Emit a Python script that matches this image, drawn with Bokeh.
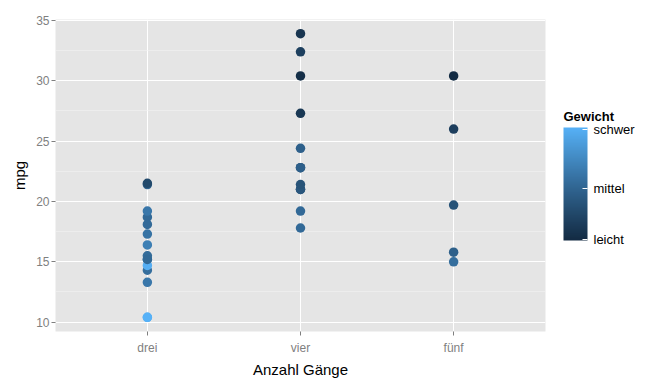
import numpy as np
from bokeh.plotting import figure
from bokeh.layouts import row
from bokeh.models import (ColumnDataSource, LinearColorMapper, ColorBar, FixedTicker,
                          Range1d, SingleIntervalTicker, Label)
from bokeh.transform import transform
from bokeh.embed import file_html
from bokeh.resources import INLINE

# mtcars: mpg by gear, colour = weight
gear = [4, 4, 4, 3, 3, 3, 3, 4, 4, 4, 4, 3, 3, 3, 3, 3, 3, 4, 4, 4, 3, 3, 3, 3, 3, 4, 5, 5, 5, 5, 5, 4]
mpg = [21.0, 21.0, 22.8, 21.4, 18.7, 18.1, 14.3, 24.4, 22.8, 19.2, 17.8, 16.4, 17.3, 15.2, 10.4, 10.4,
       14.7, 32.4, 30.4, 33.9, 21.5, 15.5, 15.2, 13.3, 19.2, 27.3, 26.0, 30.4, 15.8, 19.7, 15.0, 21.4]
wt = [2.620, 2.875, 2.320, 3.215, 3.440, 3.460, 3.570, 3.190, 3.150, 3.440, 3.440, 4.070, 3.730, 3.780,
      5.250, 5.424, 5.345, 2.200, 1.615, 1.835, 2.465, 3.520, 3.435, 3.840, 3.845, 1.935, 2.140, 1.513,
      3.170, 2.770, 3.570, 2.780]
gear_labels = {3: "drei", 4: "vier", 5: "fünf"}
legend_breaks = [1.55, 3.325, 5.35]
legend_labels = ["leicht", "mittel", "schwer"]
legend_title = "Gewicht"


def hex2rgb(h):
    h = h.lstrip("#")
    return np.array([int(h[i:i + 2], 16) for i in (0, 2, 4)]) / 255.0


def rgb2lab(c):
    c = np.where(c > 0.04045, ((c + 0.055) / 1.055) ** 2.4, c / 12.92)
    M = np.array([[0.4124, 0.3576, 0.1805], [0.2126, 0.7152, 0.0722], [0.0193, 0.1192, 0.9505]])
    xyz = M @ c / np.array([0.95047, 1.0, 1.08883])
    f = np.where(xyz > 0.008856, np.cbrt(xyz), 7.787 * xyz + 16 / 116)
    return np.array([116 * f[1] - 16, 500 * (f[0] - f[1]), 200 * (f[1] - f[2])])


def lab2hex(lab):
    L, a, b = lab
    fy = (L + 16) / 116
    fx = fy + a / 500
    fz = fy - b / 200
    f = np.array([fx, fy, fz])
    xyz = np.where(f ** 3 > 0.008856, f ** 3, (f - 16 / 116) / 7.787) * np.array([0.95047, 1.0, 1.08883])
    Minv = np.array([[3.2406, -1.5372, -0.4986], [-0.9689, 1.8758, 0.0415], [0.0557, -0.2040, 1.0570]])
    c = Minv @ xyz
    c = np.where(c > 0.0031308, 1.055 * np.clip(c, 0, None) ** (1 / 2.4) - 0.055, 12.92 * c)
    c = np.clip(c, 0, 1)
    return "#%02x%02x%02x" % tuple(int(round(v * 255)) for v in c)


lo, hi = rgb2lab(hex2rgb("#132B43")), rgb2lab(hex2rgb("#56B1F7"))
palette = [lab2hex(lo + (hi - lo) * t) for t in np.linspace(0, 1, 256)]

mapper = LinearColorMapper(palette=palette, low=min(wt), high=max(wt))
src = ColumnDataSource(dict(gear=gear, mpg=mpg, wt=wt))

p = figure(width=560, height=384, output_backend="svg", toolbar_location=None,
           x_range=Range1d(2.4, 5.6), y_range=Range1d(9.225, 35.075),
           min_border_left=55, min_border_right=15, min_border_top=19, min_border_bottom=53)
p.background_fill_color = "#E5E5E5"
p.border_fill_color = "white"
p.outline_line_color = None

p.scatter("gear", "mpg", source=src, size=9.5, line_color=None,
          fill_color=transform("wt", mapper))

p.xaxis.ticker = FixedTicker(ticks=[3, 4, 5])
p.xaxis.major_label_overrides = {k: v for k, v in gear_labels.items()}
p.yaxis.ticker = SingleIntervalTicker(interval=5, num_minor_ticks=2)
p.ygrid.ticker = SingleIntervalTicker(interval=5, num_minor_ticks=2)
p.xgrid.ticker = FixedTicker(ticks=[3, 4, 5])

for ax in (p.xaxis, p.yaxis):
    ax.axis_line_color = None
    ax.major_tick_line_color = "#7F7F7F"
    ax.major_tick_in = 0
    ax.major_tick_out = 4
    ax.minor_tick_line_color = None
    ax.major_label_text_color = "#7F7F7F"
    ax.major_label_text_font = "Liberation Sans"
    ax.major_label_text_font_size = "12px"
    ax.axis_label_text_font = "Liberation Sans"
    ax.axis_label_text_font_size = "15px"
    ax.axis_label_text_font_style = "normal"
    ax.axis_label_text_color = "black"

p.xaxis.axis_label = "Anzahl Gänge"
p.yaxis.axis_label = "mpg"
p.xaxis.major_label_standoff = 5
p.xaxis.axis_label_standoff = 3
p.yaxis.major_label_standoff = 2
p.yaxis.axis_label_standoff = 5

p.xgrid.grid_line_color = "white"
p.xgrid.grid_line_width = 1
p.ygrid.grid_line_color = "white"
p.ygrid.grid_line_width = 1
p.ygrid.minor_grid_line_color = "#F2F2F2"
p.ygrid.minor_grid_line_width = 0.6

# legend panel as a separate, axis-less figure
leg = figure(width=112, height=384, output_backend="svg", toolbar_location=None,
             x_range=Range1d(0, 112), y_range=Range1d(0, 384),
             min_border_left=0, min_border_right=0, min_border_top=0, min_border_bottom=0)
leg.axis.visible = False
leg.grid.visible = False
leg.outline_line_color = None
leg.background_fill_color = "white"
leg.border_fill_color = "white"

cb = ColorBar(color_mapper=mapper, ticker=FixedTicker(ticks=legend_breaks),
              major_label_overrides={b: l for b, l in zip(legend_breaks, legend_labels)},
              width=24, height=113, padding=0, margin=0, location=(3, 91),
              major_label_text_font="Liberation Sans", major_label_text_font_size="13px",
              major_label_text_color="black", label_standoff=6,
              major_tick_line_color="white", major_tick_line_width=1.2,
              major_tick_in=5, major_tick_out=0,
              minor_tick_line_color=None, bar_line_color=None,
              background_fill_color=None, border_line_color=None)
leg.add_layout(cb)

leg.add_layout(Label(x=3, y=215, x_units="screen", y_units="screen", text=legend_title,
                     text_font="Liberation Sans", text_font_size="13px", text_font_style="bold",
                     text_color="black", text_baseline="alphabetic"))

layout = row(p, leg, spacing=0)
open("out.html", "w").write(file_html(layout, INLINE))
